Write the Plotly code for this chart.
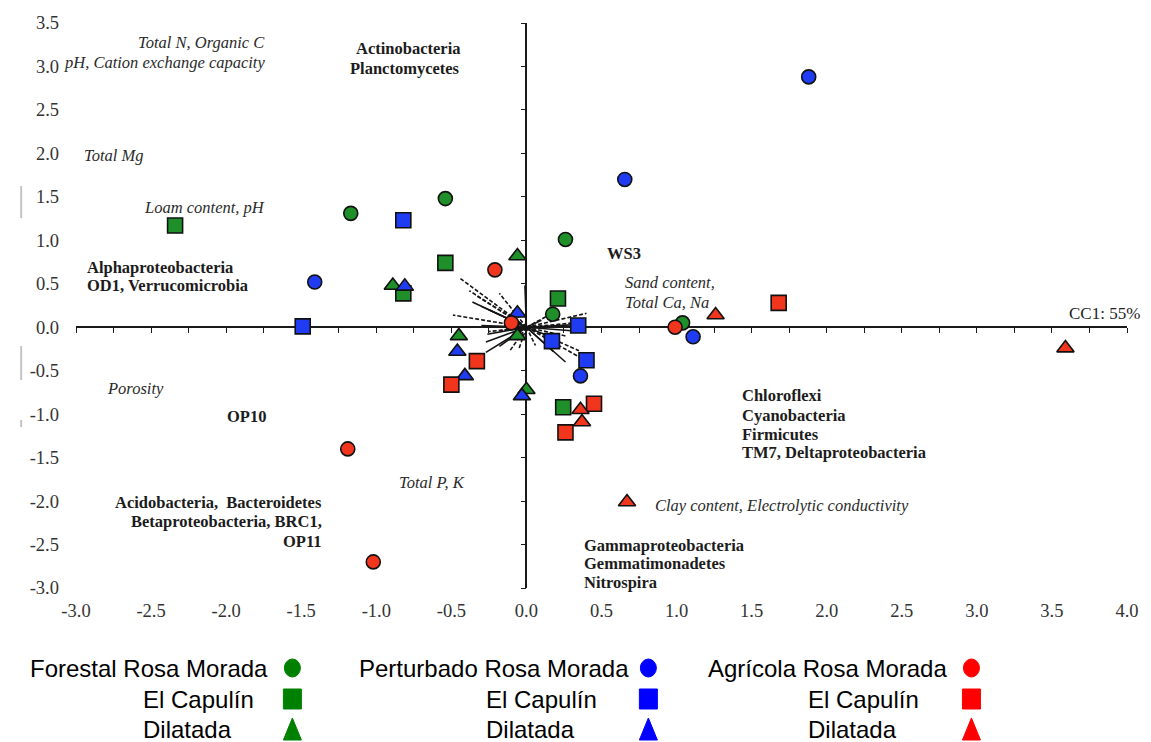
import plotly.graph_objects as go

# ---------------- sample scores on CC1 / CC2 ----------------
forestal_rm_x = [-1.17, -0.54, 0.26, 0.175, 1.04]
forestal_rm_y = [1.31, 1.48, 1.01, 0.15, 0.05]
forestal_ec_x = [-2.34, -0.54, -0.82, 0.21, 0.245]
forestal_ec_y = [1.17, 0.74, 0.39, 0.33, -0.92]
forestal_di_x = [-0.06, -0.89, -0.45, -0.06, 0.0]
forestal_di_y = [0.82, 0.48, -0.10, -0.10, -0.72]

perturbado_rm_x = [1.88, 0.655, -1.41, 1.11, 0.36]
perturbado_rm_y = [2.88, 1.70, 0.52, -0.11, -0.56]
perturbado_ec_x = [-0.82, -1.49, 0.345, 0.17, 0.40]
perturbado_ec_y = [1.23, 0.01, 0.02, -0.16, -0.38]
perturbado_di_x = [-0.81, -0.06, -0.46, -0.41, -0.03]
perturbado_di_y = [0.47, 0.16, -0.28, -0.56, -0.79]

agricola_rm_x = [-0.21, -0.10, 0.99, -1.19, -1.02]
agricola_rm_y = [0.66, 0.05, 0.00, -1.40, -2.70]
agricola_ec_x = [1.68, -0.33, -0.50, 0.45, 0.26]
agricola_ec_y = [0.28, -0.39, -0.66, -0.88, -1.21]
agricola_di_x = [1.26, 3.59, 0.36, 0.37, 0.67]
agricola_di_y = [0.14, -0.24, -0.95, -1.09, -2.01]

# ---------------- biplot vectors (from origin) ----------------
solid_vec_x = [-0.36, -0.30, -0.25, -0.01, -0.30, -0.26, -0.27, -0.27, -0.18,
               0.26, 0.18, 0.30, 0.33, 0.15, 0.10]
solid_vec_y = [0.29, 0.24, 0.20, 0.48, 0.02, -0.08, -0.17, -0.29, -0.22,
               -0.40, -0.28, -0.04, 0.03, -0.10, 0.08]
dashed_vec_x = [-0.44, -0.38, -0.34, -0.18, -0.49, -0.18, -0.25, -0.11, -0.05,
                0.06, 0.40, 0.38, 0.26, 0.37, 0.35, 0.15]
dashed_vec_y = [0.56, 0.42, 0.37, 0.39, 0.14, -0.04, -0.05, -0.27, -0.25,
                -0.21, 0.16, 0.06, -0.10, -0.36, -0.27, 0.14]

# ---------------- axis ticks ----------------
x_ticks = [-3.0, -2.5, -2.0, -1.5, -1.0, -0.5, 0.0, 0.5, 1.0, 1.5, 2.0, 2.5, 3.0, 3.5, 4.0]
x_tick_labels = ["-3.0", "-2.5", "-2.0", "-1.5", "-1.0", "-0.5", "0.0", "0.5",
                 "1.0", "1.5", "2.0", "2.5", "3.0", "3.5", "4.0"]
y_ticks = [-3.0, -2.5, -2.0, -1.5, -1.0, -0.5, 0.0, 0.5, 1.0, 1.5, 2.0, 2.5, 3.0, 3.5]
y_tick_labels = ["-3.0", "-2.5", "-2.0", "-1.5", "-1.0", "-0.5", "0.0", "0.5",
                 "1.0", "1.5", "2.0", "2.5", "3.0", "3.5"]

# ---------------- legend text ----------------
land_uses = ["Forestal", "Perturbado", "Agrícola"]
sites = ["Rosa Morada", "El Capulín", "Dilatada"]

W, H = 1151, 742
ML, MR, MT, MB = 76, 21, 23, 154
X_RANGE = [-3.0, 4.0]
Y_RANGE = [-3.0, 3.5]
PW, PH = W - ML - MR, H - MT - MB

SERIF = "Liberation Serif, Times New Roman, serif"
SANS = "Liberation Sans, Arial, sans-serif"

plot_colors = {"Forestal": "#1f8f2a", "Perturbado": "#1f3cf2", "Agrícola": "#f2361e"}
legend_colors = {"Forestal": "#008000", "Perturbado": "#0000ff", "Agrícola": "#ff0000"}


def px_x(p):
    return (p - ML) / PW


def px_y(p):
    return (H - MB - p) / PH


fig = go.Figure()

# placeholder on the base axes so their tick labels are drawn
fig.add_trace(go.Scatter(x=[None], y=[None], xaxis="x", yaxis="y",
                         showlegend=False, hoverinfo="skip"))


def vec_path(vx, vy):
    xs, ys = [], []
    for a, b in zip(vx, vy):
        xs += [0, a, None]
        ys += [0, b, None]
    return xs, ys


sx, sy = vec_path(solid_vec_x, solid_vec_y)
dx, dy = vec_path(dashed_vec_x, dashed_vec_y)
fig.add_trace(go.Scatter(x=sx, y=sy, mode="lines", xaxis="x2", yaxis="y2",
                         line=dict(color="#151515", width=1.6),
                         showlegend=False, hoverinfo="skip"))
fig.add_trace(go.Scatter(x=dx, y=dy, mode="lines", xaxis="x2", yaxis="y2",
                         line=dict(color="#151515", width=1.6, dash="4px,2px"),
                         showlegend=False, hoverinfo="skip"))

series = [
    ("Forestal", "Rosa Morada", forestal_rm_x, forestal_rm_y),
    ("Forestal", "El Capulín", forestal_ec_x, forestal_ec_y),
    ("Forestal", "Dilatada", forestal_di_x, forestal_di_y),
    ("Perturbado", "Rosa Morada", perturbado_rm_x, perturbado_rm_y),
    ("Perturbado", "El Capulín", perturbado_ec_x, perturbado_ec_y),
    ("Perturbado", "Dilatada", perturbado_di_x, perturbado_di_y),
    ("Agrícola", "Rosa Morada", agricola_rm_x, agricola_rm_y),
    ("Agrícola", "El Capulín", agricola_ec_x, agricola_ec_y),
    ("Agrícola", "Dilatada", agricola_di_x, agricola_di_y),
]
symbol_for = {"Rosa Morada": ("circle", 14), "El Capulín": ("square", 15),
              "Dilatada": ("triangle-up", 15)}

for use, site, xs, ys in series:
    sym, size = symbol_for[site]
    fig.add_trace(go.Scatter(
        x=xs, y=ys, mode="markers", xaxis="x2", yaxis="y2",
        name=f"{use} {site}",
        marker=dict(symbol=sym, size=size, color=plot_colors[use],
                    line=dict(color="#111111", width=1.6)),
        showlegend=False))

# ---------------- in-plot labels ----------------
bold_labels = [
    ("Actinobacteria", -1.15, 3.21, "left"),
    ("Planctomycetes", -1.19, 2.98, "left"),
    ("Alphaproteobacteria", -2.94, 0.69, "left"),
    ("OD1, Verrucomicrobia", -2.94, 0.48, "left"),
    ("WS3", 0.52, 0.85, "left"),
    ("Chloroflexi", 1.42, -0.78, "left"),
    ("Cyanobacteria", 1.42, -1.01, "left"),
    ("Firmicutes", 1.42, -1.23, "left"),
    ("TM7, Deltaproteobacteria", 1.42, -1.44, "left"),
    ("OP10", -2.01, -1.03, "left"),
    ("Acidobacteria,  Bacteroidetes", -1.35, -2.02, "right"),
    ("Betaproteobacteria, BRC1,", -1.35, -2.24, "right"),
    ("OP11", -1.35, -2.46, "right"),
    ("Gammaproteobacteria", 0.37, -2.51, "left"),
    ("Gemmatimonadetes", 0.37, -2.72, "left"),
    ("Nitrospira", 0.37, -2.94, "left"),
]
italic_labels = [
    ("Total N, Organic C", -1.73, 3.28, "right"),
    ("pH, Cation exchange capacity", -1.73, 3.05, "right"),
    ("Total Mg", -2.96, 1.98, "left"),
    ("Loam content, pH", -2.56, 1.38, "left"),
    ("Sand content,", 0.64, 0.51, "left"),
    ("Total Ca, Na", 0.64, 0.29, "left"),
    ("Porosity", -2.81, -0.70, "left"),
    ("Total P, K", -0.86, -1.79, "left"),
    ("Clay content, Electrolytic conductivity", 0.84, -2.05, "left"),
]

annotations = []
for txt, x, y, anc in bold_labels:
    annotations.append(dict(text=f"<b>{txt}</b>", x=x, y=y, xref="x", yref="y",
                            xanchor=anc, yanchor="middle", showarrow=False,
                            font=dict(family=SERIF, size=16.5, color="#1c1c1c")))
for txt, x, y, anc in italic_labels:
    annotations.append(dict(text=f"<i>{txt}</i>", x=x, y=y, xref="x", yref="y",
                            xanchor=anc, yanchor="middle", showarrow=False,
                            font=dict(family=SERIF, size=16.5, color="#2a2a2a")))

# axis captions
annotations.append(dict(text="CC2: 15%", x=0.09, y=3.55, xref="x", yref="y",
                        xanchor="left", yanchor="middle", showarrow=False,
                        font=dict(family=SERIF, size=17, color="#222222")))
annotations.append(dict(text="CC1: 55%", x=3.60, y=0.16, xref="x", yref="y",
                        xanchor="left", yanchor="middle", showarrow=False,
                        font=dict(family=SERIF, size=17, color="#222222")))

# ---------------- legend block (below the plot) ----------------
shapes = []
col_title_x = [28, 358, 708]
col_sub_x = [141, 485, 808]
col_marker_x = [293, 650, 974]
row_y = [668, 699, 729]

for ci, use in enumerate(land_uses):
    for ri, site in enumerate(sites):
        label = f"{use} {site}" if ri == 0 else site
        lx = col_title_x[ci] if ri == 0 else col_sub_x[ci]
        annotations.append(dict(text=label, x=px_x(lx), y=px_y(row_y[ri]),
                                xref="paper", yref="paper", xanchor="left",
                                yanchor="middle", showarrow=False,
                                font=dict(family=SANS, size=24, color="#000000")))
        common = dict(xref="paper", yref="paper", xsizemode="pixel", ysizemode="pixel",
                      xanchor=px_x(col_marker_x[ci]), yanchor=px_y(row_y[ri]),
                      fillcolor=legend_colors[use],
                      line=dict(color=legend_colors[use], width=1))
        if site == "Rosa Morada":
            shapes.append(dict(type="circle", x0=-8, x1=8, y0=-9, y1=9, **common))
        elif site == "El Capulín":
            shapes.append(dict(type="rect", x0=-9, x1=9, y0=-10, y1=10, **common))
        else:
            shapes.append(dict(type="path", path="M -9,-11 L 9,-11 L 0,11 Z", **common))

# faint marks on the left margin
for top, bottom in [(186, 218), (346, 380), (420, 427)]:
    shapes.append(dict(type="line", xref="paper", yref="paper",
                       x0=px_x(21), x1=px_x(21), y0=px_y(top), y1=px_y(bottom),
                       line=dict(color="#c4c4c4", width=2)))

tickfont = dict(family=SERIF, size=18.5, color="#333333")

fig.update_layout(
    width=W, height=H,
    margin=dict(l=ML, r=MR, t=MT, b=MB, pad=0),
    paper_bgcolor="white", plot_bgcolor="white",
    showlegend=False,
    xaxis=dict(range=X_RANGE, domain=[0, 1], showgrid=False, zeroline=False,
               showline=False, ticks="", tickmode="array", tickvals=x_ticks,
               ticktext=x_tick_labels, tickfont=tickfont, ticklabelstandoff=9,
               fixedrange=True),
    yaxis=dict(range=Y_RANGE, domain=[0, 1], showgrid=False, zeroline=False,
               showline=False, ticks="", tickmode="array", tickvals=y_ticks,
               ticktext=y_tick_labels, tickfont=tickfont, ticklabelstandoff=16,
               fixedrange=True),
    xaxis2=dict(range=X_RANGE, overlaying="x", anchor="free",
                position=(0 - Y_RANGE[0]) / (Y_RANGE[1] - Y_RANGE[0]),
                showgrid=False, zeroline=False, showline=True, linecolor="#1a1a1a",
                linewidth=1.6, ticks="outside", tickmode="linear", tick0=-3.0,
                dtick=0.25, ticklen=5, tickwidth=1.3, tickcolor="#1a1a1a",
                showticklabels=False, layer="below traces", fixedrange=True),
    yaxis2=dict(range=Y_RANGE, overlaying="y", anchor="free", side="left",
                position=(0 - X_RANGE[0]) / (X_RANGE[1] - X_RANGE[0]),
                showgrid=False, zeroline=False, showline=True, linecolor="#1a1a1a",
                linewidth=1.6, ticks="outside", tickmode="linear", tick0=-3.0,
                dtick=0.5, ticklen=5, tickwidth=1.3, tickcolor="#1a1a1a",
                showticklabels=False, layer="below traces", fixedrange=True),
    annotations=annotations,
    shapes=shapes,
)

fig.write_html("out.html")
